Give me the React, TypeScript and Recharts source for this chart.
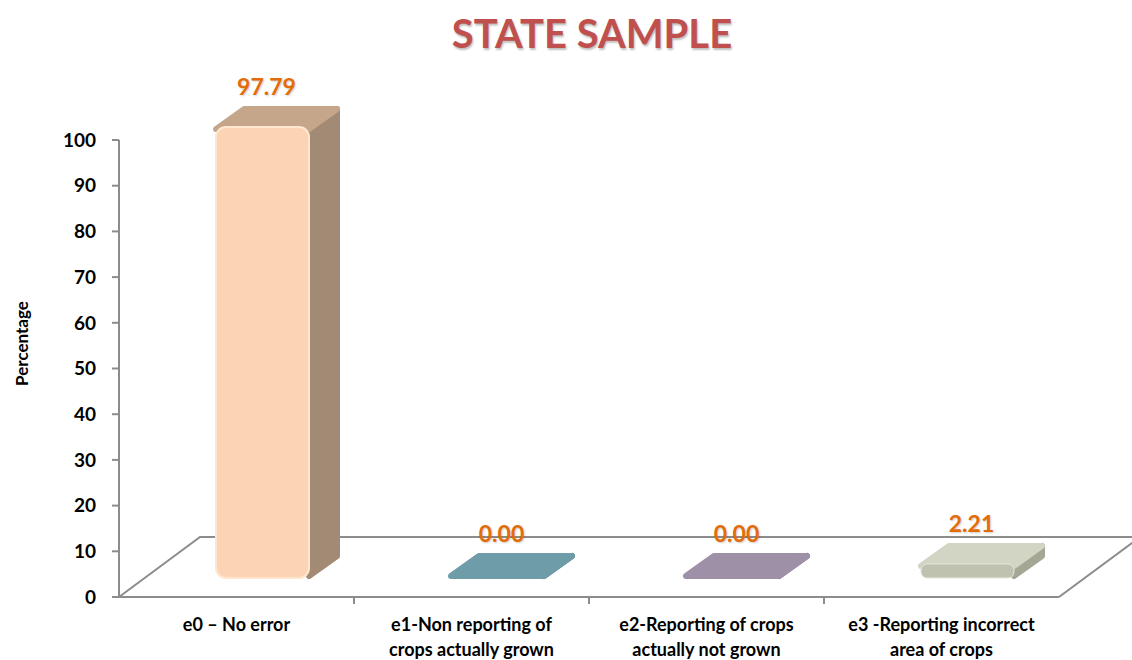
import React from 'react';
import { BarChart, Bar, XAxis, YAxis, LabelList, Customized } from 'recharts';

const categories = [
    'e0 – No error',
    'e1-Non reporting of\ncrops actually grown',
    'e2-Reporting of crops\nactually not grown',
    'e3 -Reporting incorrect\narea of crops',
];
const percentages = [97.79, 0.0, 0.0, 2.21];
const yTicks = [0, 10, 20, 30, 40, 50, 60, 70, 80, 90, 100];

const chartData = categories.map((name, i) => ({ name, value: percentages[i] }));

// look of each column: front, top, side
const palette = [
    { front: '#FCD4B4', rim: '#FFE7CF', top: '#C5A68A', side: '#A28A74' },
    { front: '#6E9CA8', rim: '#7FAAB5', top: '#6E9CA8', side: '#557F8B' },
    { front: '#9D90A7', rim: '#ABA0B4', top: '#9D90A7', side: '#7C6F87' },
    { front: '#BFC2AE', rim: '#E6E8DC', top: '#D2D5C4', side: '#A3A793' },
];

const W = 1132;
const H = 660;
const MARGIN = { top: 140, right: 73, bottom: 0, left: 0 };
const Y_AXIS_W = 119;
const X_AXIS_H = 63;
const PLOT = {
    left: MARGIN.left + Y_AXIS_W,
    right: W - MARGIN.right,
    top: MARGIN.top,
    bottom: H - MARGIN.bottom - X_AXIS_H,
};
const FLOOR_DX = 81;
const FLOOR_DY = -60;
// bars stand in the middle of the floor depth
const FRONT_DX = 26;
const FRONT_DY = -21;
const DEPTH_DX = 28;
const DEPTH_DY = -20;
const AXIS_GREY = '#8C8C8C';
const FONT = 'Lato, "Open Sans", sans-serif';

function Floor() {
    const { left, right, bottom } = PLOT;
    const step = (right - left) / categories.length;
    const ticks = categories.slice(1).map((_, i) => left + step * (i + 1));
    return (
        <g>
            <polyline
                points={`${left},${bottom} ${left + FLOOR_DX},${bottom + FLOOR_DY} ${right + FLOOR_DX},${bottom + FLOOR_DY} ${right},${bottom}`}
                fill="none"
                stroke={AXIS_GREY}
                strokeWidth={2}
            />
            {ticks.map((t) => (
                <line key={t} x1={t} y1={bottom} x2={t} y2={bottom + 7} stroke={AXIS_GREY} strokeWidth={2} />
            ))}
        </g>
    );
}

function Column(props: any) {
    const { x, y, width, height, index } = props;
    const c = palette[index % palette.length];
    const fx = x + FRONT_DX;
    const fy = y + FRONT_DY;
    const h = Math.max(height, 0);
    const top = `${fx},${fy} ${fx + DEPTH_DX},${fy + DEPTH_DY} ${fx + width + DEPTH_DX},${fy + DEPTH_DY} ${fx + width},${fy}`;
    const side = `${fx + width},${fy} ${fx + width + DEPTH_DX},${fy + DEPTH_DY} ${fx + width + DEPTH_DX},${fy + h + DEPTH_DY} ${fx + width},${fy + h}`;
    const r = Math.min(10, h / 2 + 1);
    return (
        <g>
            <polygon points={side} fill={c.side} stroke={c.side} strokeWidth={6} strokeLinejoin="round" />
            <polygon points={top} fill={c.top} stroke={c.top} strokeWidth={6} strokeLinejoin="round" />
            {h > 0 && (
                <rect
                    x={fx}
                    y={fy - 2}
                    width={width}
                    height={h + 4}
                    rx={r}
                    fill={c.front}
                    stroke={c.rim}
                    strokeWidth={h > 20 ? 2 : 1}
                />
            )}
        </g>
    );
}

function ValueLabel(props: any) {
    const { x, y, width, value } = props;
    return (
        <text
            x={x + FRONT_DX + width / 2 + 4}
            y={y + FRONT_DY + DEPTH_DY - 14}
            textAnchor="middle"
            fill="#E36C09"
            fontFamily={FONT}
            fontWeight={700}
            fontSize={23}
            style={{ textShadow: '1px 1px 2px rgba(0,0,0,0.2)' }}
        >
            {Number(value).toFixed(2)}
        </text>
    );
}

function CategoryTick(props: any) {
    const { x, y, payload } = props;
    const lines = String(payload.value).split('\n');
    return (
        <text x={x} y={y} textAnchor="middle" fill="#000" fontFamily={FONT} fontWeight={700} fontSize={18}>
            {lines.map((line, i) => (
                <tspan key={i} x={x} dy={i === 0 ? 26 : 25}>
                    {line}
                </tspan>
            ))}
        </text>
    );
}

function AxisTitle(props: any) {
    const { viewBox } = props;
    const cy = viewBox ? viewBox.y + viewBox.height / 2 - 25 : 345;
    return (
        <text
            x={21}
            y={cy}
            transform={`rotate(-90 21 ${cy})`}
            textAnchor="middle"
            dominantBaseline="central"
            fill="#000"
            fontFamily={FONT}
            fontWeight={700}
            fontSize={17}
        >
            Percentage
        </text>
    );
}

export default function App() {
    return (
        <div style={{ position: 'absolute', left: 0, top: 0, width: W, height: H, background: '#fff' }}>
            <div
                style={{
                    position: 'absolute',
                    left: 0,
                    top: 9,
                    width: W - 52,
                    paddingLeft: 52,
                    textAlign: 'center',
                    fontFamily: FONT,
                    fontWeight: 700,
                    fontSize: 40,
                    color: '#C0504D',
                    textShadow: '1px 2px 2px rgba(0,0,0,0.25)',
                }}
            >
                STATE SAMPLE
            </div>
            <BarChart width={W} height={H} data={chartData} margin={MARGIN}>
                <Customized component={Floor} />
                <XAxis
                    dataKey="name"
                    height={X_AXIS_H}
                    axisLine={{ stroke: AXIS_GREY, strokeWidth: 2 }}
                    tickLine={false}
                    interval={0}
                    tick={<CategoryTick />}
                />
                <YAxis
                    width={Y_AXIS_W}
                    domain={[0, 100]}
                    ticks={yTicks}
                    interval={0}
                    axisLine={{ stroke: AXIS_GREY, strokeWidth: 2 }}
                    tickLine={{ stroke: AXIS_GREY, strokeWidth: 2 }}
                    tickSize={7}
                    tickMargin={16}
                    tick={{ fill: '#000', fontFamily: FONT, fontWeight: 700, fontSize: 19 }}
                    label={<AxisTitle />}
                />
                <Bar dataKey="value" barSize={93} shape={<Column />} isAnimationActive={false}>
                    <LabelList dataKey="value" content={<ValueLabel />} />
                </Bar>
            </BarChart>
        </div>
    );
}
